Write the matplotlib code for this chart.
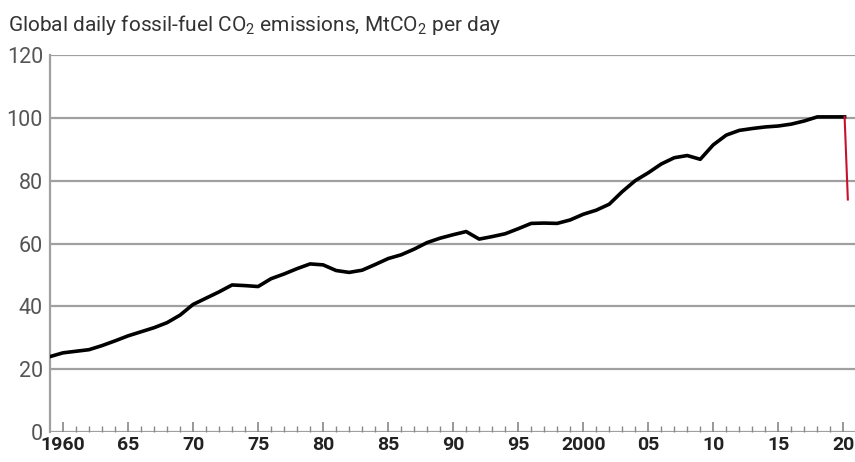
import matplotlib
matplotlib.use("Agg")
import matplotlib.pyplot as plt
from matplotlib import font_manager
import numpy as np

names = {f.name for f in font_manager.fontManager.ttflist}
cond = "Liberation Sans Narrow" if "Liberation Sans Narrow" in names else "Roboto"
plt.rcParams['font.family'] = [cond, 'DejaVu Sans']
plt.rcParams['mathtext.fontset'] = 'custom'
plt.rcParams['mathtext.rm'] = cond
plt.rcParams['mathtext.it'] = cond

years = list(range(1959, 2020))
emissions = [24.0, 25.2, 25.7, 26.2, 27.5, 29.0, 30.6, 31.9, 33.2, 34.8,
             37.2, 40.6, 42.6, 44.6, 46.8, 46.6, 46.3, 48.8, 50.3, 52.0,
             53.5, 53.2, 51.4, 50.8, 51.5, 53.3, 55.2, 56.4, 58.2, 60.3,
             61.7, 62.8, 63.8, 61.4, 62.2, 63.1, 64.7, 66.4, 66.5, 66.4,
             67.5, 69.3, 70.6, 72.5, 76.5, 80.0, 82.5, 85.3, 87.3, 88.0,
             86.8, 91.4, 94.5, 96.0, 96.6, 97.1, 97.4, 98.0, 99.0, 100.3,
             100.3]
early2020_x = [2020.1]
early2020_y = [100.3]
covid_x = [2020.1, 2020.35]
covid_y = [100.3, 74.0]

major_ticks = list(range(1960, 2021, 5))
major_labels = ["1960", "65", "70", "75", "80", "85", "90", "95", "2000",
                "05", "10", "15", "20"]
yticks = [0, 20, 40, 60, 80, 100, 120]

fig = plt.figure(figsize=(8.55, 4.62), dpi=100)
ax = fig.add_axes([50/855, 1 - 432/462, 1 - 50/855, (432 - 55)/462])

ax.set_xlim(1959.0, 2020.9)
ax.set_ylim(0, 120)

grid_c = "#a0a0a0"
for v in yticks:
    ax.axhline(v, color=grid_c, lw=1.6, zorder=1)

ax.plot(years + early2020_x, emissions + early2020_y, color="black", lw=2.6,
        solid_joinstyle="round", zorder=3)
ax.plot(covid_x, covid_y, color="#c8102e", lw=1.5, zorder=4)

for s in ["top", "right", "bottom"]:
    ax.spines[s].set_visible(False)
ax.spines["left"].set_color(grid_c)
ax.spines["left"].set_linewidth(1.6)

ax.set_yticks(yticks)
ax.set_yticklabels([str(v) for v in yticks])
ax.tick_params(axis="y", length=0, pad=5, labelsize=15.5, labelcolor="#555555")

ax.set_xticks(major_ticks)
ax.set_xticklabels(major_labels)
ax.set_xticks(list(range(1960, 2021)), minor=True)
ax.tick_params(axis="x", which="major", direction="in", length=7, width=1.2,
               color="#888888", labelsize=14, labelcolor="#222222", pad=3)
ax.tick_params(axis="x", which="minor", direction="in", length=4, width=1.0,
               color="#888888")
for lab in ax.get_xticklabels():
    lab.set_fontweight("bold")

fig.text(8/855, 1 - 31/462, r"Global daily fossil-fuel CO$_2$ emissions, MtCO$_2$ per day",
         fontsize=15, color="#333333", ha="left", va="baseline")

fig.savefig("out.png", dpi=100)
